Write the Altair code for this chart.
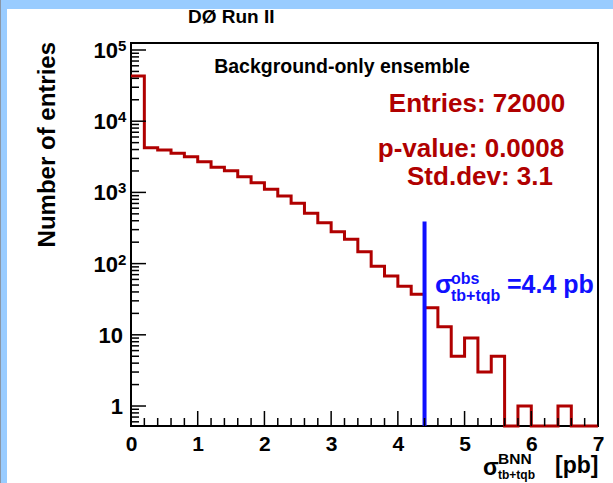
import altair as alt
import pandas as pd

FONT = "Liberation Sans"
RED = "#b00000"
BLUE = "#1010ff"
BAND = "#99ccff"

# Fitted cross sections in the background-only ensemble, 0.2 pb bins
bin_width = 0.2
counts = [43000, 4250, 3950, 3550, 3180, 2700, 2250, 2020, 1660, 1370,
          1105, 890, 703, 508, 375, 281, 219, 147, 92, 67,
          48, 37, 24, 13, 5, 9, 3, 5, 0, 1,
          0, 0, 1, 0, 0]
bin_lo = [round(i * bin_width, 1) for i in range(len(counts))]

# Observed cross section
obs_value = [4.4]
obs_top = [390]

# Axis ticks and labels
x_ticks = [0, 1, 2, 3, 4, 5, 6, 7]
x_minor = [round(i * 0.2, 1) for i in range(36) if i % 5]
y_ticks = [1, 10, 100, 1000, 10000, 100000]
y_base = ["1", "10", "10", "10", "10", "10"]
y_exp = ["", "", "2", "3", "4", "5"]
Y_MIN, Y_MAX = 0.524, 1.254e5
y_minor = [m * 10 ** k for k in range(-1, 5) for m in range(2, 10)
           if Y_MIN < m * 10 ** k < Y_MAX]

W, H = 467, 383
PAD_L, PAD_T, PAD_R, PAD_B = 131, 43, 15, 57

xscale = alt.Scale(domain=[0, 7], nice=False, zero=False)
yscale = alt.Scale(type="log", domain=[Y_MIN, Y_MAX], nice=False)
xaxis = alt.Axis(values=x_ticks, title=None, ticks=False, tickSize=0,
                 domain=False, grid=False, labelFont=FONT,
                 labelFontWeight="bold", labelFontSize=21,
                 labelColor="black", labelPadding=24,
                 labelBaseline="alphabetic", labelFlush=False, format="d")

hist = pd.DataFrame({"x": bin_lo + [7.0], "n": counts + [counts[-1]]})
step = (
    alt.Chart(hist)
    .transform_calculate(y=f"max(datum.n, {Y_MIN})")
    .mark_line(interpolate="step-after", color=RED, strokeWidth=3)
    .encode(
        x=alt.X("x:Q", scale=xscale, axis=xaxis),
        y=alt.Y("y:Q", scale=yscale, axis=None),
    )
)

obs = pd.DataFrame({"x": obs_value, "top": obs_top})
obs_line = (
    alt.Chart(obs)
    .transform_calculate(bottom=f"{Y_MIN}")
    .mark_rule(color=BLUE, strokeWidth=4)
    .encode(
        x=alt.X("x:Q", scale=xscale, axis=xaxis),
        y=alt.Y("bottom:Q", scale=yscale, axis=None),
        y2="top:Q",
    )
)

# Inward tick marks on the left and bottom axes
def yticks(values, length):
    return (
        alt.Chart(pd.DataFrame({"t": values}))
        .mark_rule(color="black", strokeWidth=1.5)
        .encode(y=alt.Y("t:Q", scale=yscale, axis=None),
                x=alt.value(0), x2=alt.value(length))
    )


def xticks(values, length):
    return (
        alt.Chart(pd.DataFrame({"t": values}))
        .mark_rule(color="black", strokeWidth=1.5)
        .encode(x=alt.X("t:Q", scale=xscale, axis=xaxis),
                y=alt.value(H), y2=alt.value(H - length))
    )


ylab = pd.DataFrame({"t": y_ticks, "base": y_base, "exp": y_exp})
ylab_plain = (
    alt.Chart(ylab)
    .transform_filter("datum.exp == ''")
    .mark_text(font=FONT, fontWeight="bold", fontSize=22, align="right",
               baseline="alphabetic", dy=8, color="black")
    .encode(y=alt.Y("t:Q", scale=yscale, axis=None), x=alt.value(-8),
            text="base:N")
)
ylab_base = (
    alt.Chart(ylab)
    .transform_filter("datum.exp != ''")
    .mark_text(font=FONT, fontWeight="bold", fontSize=22, align="right",
               baseline="alphabetic", dy=8, color="black")
    .encode(y=alt.Y("t:Q", scale=yscale, axis=None), x=alt.value(-13),
            text="base:N")
)
ylab_exp = (
    alt.Chart(ylab)
    .transform_filter("datum.exp != ''")
    .mark_text(font=FONT, fontWeight="bold", fontSize=15, align="left",
               baseline="alphabetic", dy=1, color="black")
    .encode(y=alt.Y("t:Q", scale=yscale, axis=None), x=alt.value(-13),
            text="exp:N")
)

one = pd.DataFrame({"k": [0]})


def label(text, x, y, size, color="black", align="left", angle=0):
    return (
        alt.Chart(one)
        .mark_text(text=text, font=FONT, fontWeight="bold", fontSize=size,
                   color=color, align=align, baseline="alphabetic",
                   angle=angle)
        .encode(x=alt.value(x), y=alt.value(y))
    )


def band(x0, x1, y0, y1, color):
    return (
        alt.Chart(one)
        .mark_rect(color=color)
        .encode(x=alt.value(x0), x2=alt.value(x1),
                y=alt.value(y0), y2=alt.value(y1))
    )


texts = [
    label("DØ Run II", 57, -20, 19),
    label("Background-only ensemble", 211, 30, 19.5, align="center"),
    label("Entries: 72000", 346, 69, 26, RED, "center"),
    label("p-value: 0.0008", 340, 114, 26, RED, "center"),
    label("Std.dev: 3.1", 349, 142, 26, RED, "center"),
    label("σ", 304, 250, 26, BLUE),
    label("obs", 320, 241, 16, BLUE),
    label("tb+tqb", 320, 258, 16, BLUE),
    label("=4.4 pb", 376, 250, 25, BLUE),
    label("Number of entries", -76, -1, 24, align="right", angle=270),
    label("σ", 352, 432, 23),
    label("BNN", 367, 421, 15.5),
    label("tb+tqb", 367, 436, 12),
    label("[pb]", 424, 430, 23),
]

bands = [
    band(-PAD_L, W + PAD_R, -PAD_T, -PAD_T + 9, BAND),
    band(-PAD_L, -PAD_L + 7, -PAD_T, H + PAD_B, BAND),
    band(-PAD_L, -PAD_L + 1, -PAD_T, H + PAD_B, "#8a96a6"),
]

chart = (
    alt.layer(
        *bands,
        step,
        obs_line,
        yticks(y_ticks, 15),
        yticks(y_minor, 8),
        xticks(x_ticks, 15),
        xticks(x_minor, 8),
        ylab_plain,
        ylab_base,
        ylab_exp,
        *texts,
    )
    .properties(
        width=W,
        height=H,
        autosize=alt.AutoSizeParams(type="none"),
        padding={"left": PAD_L, "top": PAD_T, "right": PAD_R, "bottom": PAD_B},
        background="white",
    )
    .configure_view(stroke="black", strokeWidth=2)
)

chart.save("out.html", embed_options={"renderer": "svg", "actions": False})
